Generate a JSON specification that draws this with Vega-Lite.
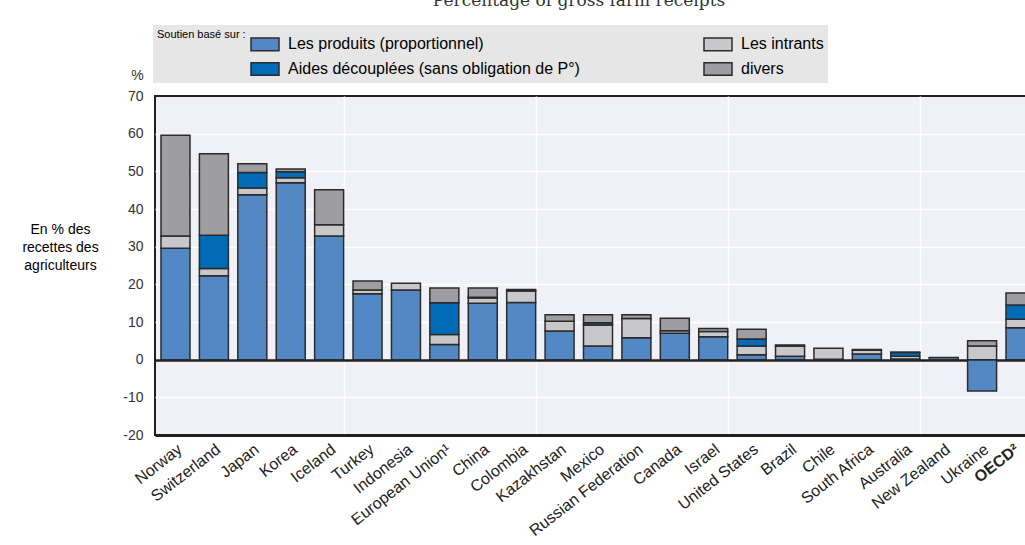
{
  "$schema": "https://vega.github.io/schema/vega-lite/v6.json",
  "width": 872,
  "height": 339,
  "autosize": {"type": "none"},
  "padding": {"left": 155, "top": 96, "right": 0, "bottom": 110},
  "background": "white",
  "view": {"fill": "#EFF1F7", "stroke": "#231F20", "strokeWidth": 2},
  "title": {
    "text": "Percentage of gross farm receipts",
    "font": "DejaVu Serif", "fontSize": 17, "fontWeight": "normal", "color": "#333333",
    "anchor": "middle", "frame": "group", "dx": -12, "dy": -2, "baseline": "alphabetic", "offset": 0
  },
  "data": {
    "values": [
      {"country": "Norway", "type": "Les produits (proportionnel)", "value": 29.6},
      {"country": "Norway", "type": "Les intrants", "value": 3.2},
      {"country": "Norway", "type": "divers", "value": 26.8},
      {"country": "Switzerland", "type": "Les produits (proportionnel)", "value": 22.3},
      {"country": "Switzerland", "type": "Les intrants", "value": 1.9},
      {"country": "Switzerland", "type": "Aides découplées  (sans obligation de P°)", "value": 8.8},
      {"country": "Switzerland", "type": "divers", "value": 21.7},
      {"country": "Japan", "type": "Les produits (proportionnel)", "value": 43.8},
      {"country": "Japan", "type": "Les intrants", "value": 1.8},
      {"country": "Japan", "type": "Aides découplées  (sans obligation de P°)", "value": 4.1},
      {"country": "Japan", "type": "divers", "value": 2.3},
      {"country": "Korea", "type": "Les produits (proportionnel)", "value": 47.0},
      {"country": "Korea", "type": "Les intrants", "value": 1.3},
      {"country": "Korea", "type": "Aides découplées  (sans obligation de P°)", "value": 1.6},
      {"country": "Korea", "type": "divers", "value": 0.7},
      {"country": "Iceland", "type": "Les produits (proportionnel)", "value": 32.8},
      {"country": "Iceland", "type": "Les intrants", "value": 3.0},
      {"country": "Iceland", "type": "divers", "value": 9.3},
      {"country": "Turkey", "type": "Les produits (proportionnel)", "value": 17.5},
      {"country": "Turkey", "type": "Les intrants", "value": 1.0},
      {"country": "Turkey", "type": "divers", "value": 2.4},
      {"country": "Indonesia", "type": "Les produits (proportionnel)", "value": 18.5},
      {"country": "Indonesia", "type": "Les intrants", "value": 1.8},
      {"country": "European Union¹", "type": "Les produits (proportionnel)", "value": 4.0},
      {"country": "European Union¹", "type": "Les intrants", "value": 2.7},
      {"country": "European Union¹", "type": "Aides découplées  (sans obligation de P°)", "value": 8.4},
      {"country": "European Union¹", "type": "divers", "value": 3.9},
      {"country": "China", "type": "Les produits (proportionnel)", "value": 15.0},
      {"country": "China", "type": "Les intrants", "value": 1.4},
      {"country": "China", "type": "Aides découplées  (sans obligation de P°)", "value": 0.2},
      {"country": "China", "type": "divers", "value": 2.4},
      {"country": "Colombia", "type": "Les produits (proportionnel)", "value": 15.2},
      {"country": "Colombia", "type": "Les intrants", "value": 3.0},
      {"country": "Colombia", "type": "divers", "value": 0.4},
      {"country": "Kazakhstan", "type": "Les produits (proportionnel)", "value": 7.6},
      {"country": "Kazakhstan", "type": "Les intrants", "value": 2.6},
      {"country": "Kazakhstan", "type": "divers", "value": 1.7},
      {"country": "Mexico", "type": "Les produits (proportionnel)", "value": 3.6},
      {"country": "Mexico", "type": "Les intrants", "value": 5.6},
      {"country": "Mexico", "type": "Aides découplées  (sans obligation de P°)", "value": 0.6},
      {"country": "Mexico", "type": "divers", "value": 2.1},
      {"country": "Russian Federation", "type": "Les produits (proportionnel)", "value": 5.8},
      {"country": "Russian Federation", "type": "Les intrants", "value": 5.1},
      {"country": "Russian Federation", "type": "divers", "value": 1.0},
      {"country": "Canada", "type": "Les produits (proportionnel)", "value": 7.0},
      {"country": "Canada", "type": "Les intrants", "value": 0.7},
      {"country": "Canada", "type": "divers", "value": 3.3},
      {"country": "Israel", "type": "Les produits (proportionnel)", "value": 6.1},
      {"country": "Israel", "type": "Les intrants", "value": 1.4},
      {"country": "Israel", "type": "divers", "value": 0.8},
      {"country": "United States", "type": "Les produits (proportionnel)", "value": 1.3},
      {"country": "United States", "type": "Les intrants", "value": 2.3},
      {"country": "United States", "type": "Aides découplées  (sans obligation de P°)", "value": 1.9},
      {"country": "United States", "type": "divers", "value": 2.6},
      {"country": "Brazil", "type": "Les produits (proportionnel)", "value": 0.9},
      {"country": "Brazil", "type": "Les intrants", "value": 2.7},
      {"country": "Brazil", "type": "divers", "value": 0.3},
      {"country": "Chile", "type": "Les produits (proportionnel)", "value": 0.1},
      {"country": "Chile", "type": "Les intrants", "value": 2.9},
      {"country": "South Africa", "type": "Les produits (proportionnel)", "value": 1.5},
      {"country": "South Africa", "type": "Les intrants", "value": 1.0},
      {"country": "South Africa", "type": "divers", "value": 0.2},
      {"country": "Australia", "type": "Les produits (proportionnel)", "value": 0.2},
      {"country": "Australia", "type": "Les intrants", "value": 0.7},
      {"country": "Australia", "type": "Aides découplées  (sans obligation de P°)", "value": 1.0},
      {"country": "Australia", "type": "divers", "value": 0.1},
      {"country": "New Zealand", "type": "Les produits (proportionnel)", "value": 0.6},
      {"country": "Ukraine", "type": "Les produits (proportionnel)", "value": -8.3},
      {"country": "Ukraine", "type": "Les intrants", "value": 3.6},
      {"country": "Ukraine", "type": "divers", "value": 1.4},
      {"country": "OECD²", "type": "Les produits (proportionnel)", "value": 8.5},
      {"country": "OECD²", "type": "Les intrants", "value": 2.2},
      {"country": "OECD²", "type": "Aides découplées  (sans obligation de P°)", "value": 3.8},
      {"country": "OECD²", "type": "divers", "value": 3.2}
    ]
  },
  "transform": [
    {"calculate": "indexof(['Les produits (proportionnel)', 'Les intrants', 'Aides découplées  (sans obligation de P°)', 'divers'], datum.type)", "as": "stackOrder"}
  ],
  "mark": {"type": "bar", "stroke": "#2B2B2B", "strokeWidth": 1.5},
  "encoding": {
    "x": {
      "field": "country", "type": "nominal", "sort": null,
      "scale": {"range": [0, 886], "paddingInner": 0.245, "paddingOuter": 0.156},
      "axis": {
        "title": ["En % des", "recettes des", "agriculteurs"],
        "titleX": -95, "titleY": -213, "titleAngle": 0, "titleAlign": "center", "titleBaseline": "top",
        "titleFont": "Liberation Sans", "titleFontSize": 14, "titleFontWeight": "normal", "titleColor": "#000000", "titleLineHeight": 18,
        "labelAngle": -38, "labelAlign": "right", "labelBaseline": "middle",
        "labelFont": "Liberation Sans", "labelFontSize": 16, "labelColor": "#222222", "labelPadding": 12,
        "labelOffset": {"condition": {"test": "datum.value === 'OECD²'", "value": -4}, "value": 4},
        "labelFontWeight": {"condition": {"test": "datum.value === 'OECD²'", "value": "bold"}, "value": "normal"},
        "labelOverlap": false,
        "ticks": false, "domain": true, "domainColor": "#231F20", "domainWidth": 3,
        "grid": true, "tickBand": "extent", "gridColor": "#FFFFFF", "gridWidth": 1.5,
        "gridOpacity": {"condition": {"test": "indexof(['Iceland', 'Colombia', 'Israel', 'Australia'], datum.value) >= 0", "value": 1}, "value": 0}
      }
    },
    "y": {
      "field": "value", "type": "quantitative", "stack": "zero",
      "scale": {"domain": [-20, 70], "nice": false, "zero": false},
      "axis": {
        "title": "%", "titleAngle": 0, "titleX": -18, "titleY": -21, "titleAlign": "center", "titleBaseline": "middle",
        "titleFont": "Liberation Sans", "titleFontSize": 14, "titleFontWeight": "normal", "titleColor": "#333333",
        "values": [-20, -10, 0, 10, 20, 30, 40, 50, 60, 70],
        "labelExpr": "'' + datum.value",
        "labelFont": "Liberation Sans", "labelFontSize": 14, "labelColor": "#333333", "labelPadding": 12,
        "ticks": false, "domain": false, "grid": true,
        "gridColor": {"condition": {"test": "datum.value === 0", "value": "#231F20"}, "value": "#FFFFFF"},
        "gridWidth": {"condition": {"test": "datum.value === 0", "value": 2.5}, "value": 1.5},
        "gridOpacity": {"condition": {"test": "datum.value === -20 || datum.value === 70", "value": 0}, "value": 1}
      }
    },
    "color": {
      "field": "type", "type": "nominal",
      "scale": {
        "domain": ["Les produits (proportionnel)", "Aides découplées  (sans obligation de P°)", "Les intrants", "divers"],
        "range": ["#5388C5", "#006BB6", "#C8C8CB", "#9D9DA2"]
      },
      "legend": {
        "title": "Soutien basé sur :", "titleOrient": "left", "titleAnchor": "start", "titleBaseline": "top",
        "titleFont": "Liberation Sans", "titleFontSize": 11, "titleFontWeight": "normal", "titleColor": "#000000", "titlePadding": 4,
        "orient": "none", "legendX": -2, "legendY": -71,
        "columns": 2, "gridAlign": "each", "columnPadding": 116, "rowPadding": 0, "padding": 4,
        "fillColor": "#E6E6E6",
        "symbolType": "M-1,-0.45H1V0.45H-1Z", "symbolSize": 784, "symbolStrokeColor": "#2B2B2B", "symbolStrokeWidth": 1.5, "symbolOpacity": 1,
        "labelFont": "Liberation Sans", "labelFontSize": 16, "labelColor": "#000000", "labelOffset": 8, "labelLimit": 500
      }
    },
    "order": {"field": "stackOrder", "type": "quantitative", "sort": "ascending"}
  }
}
